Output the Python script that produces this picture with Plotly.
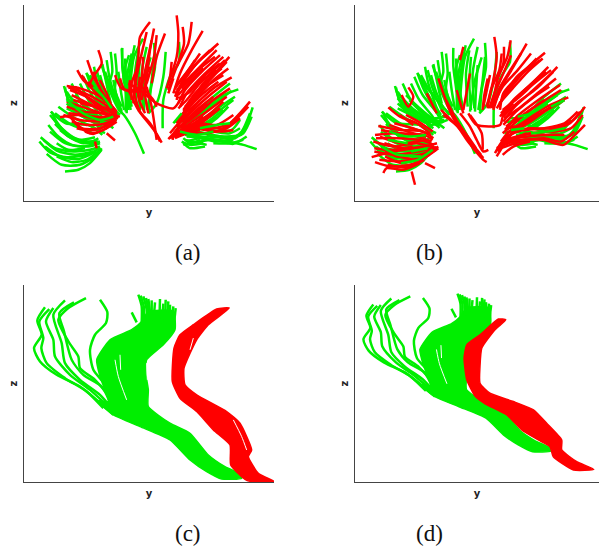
import plotly.graph_objects as go

# Streamline fibres as (y, z) samples. Axis z runs downward in these units.
green_ab = [
 [(195,515),(235,510),(270,490),(305,450)],
 [(140,462),(185,495),(240,495),(285,470),(305,445)],
 [(118,425),(150,458),(200,472),(260,465),(300,445)],
 [(122,412),(165,445),(220,455),(270,450),(300,440)],
 [(145,375),(175,410),(215,435),(265,440),(300,430)],
 [(155,335),(170,365),(205,405),(250,425),(295,425)],
 [(170,430),(205,450),(255,445)],
 [(150,345),(185,385),(225,415),(275,425),(295,415)],
 [(160,355),(190,395),(235,420),(285,412)],
 [(130,420),(170,452),(225,465),(280,455)],
 [(135,440),(180,470),(235,478),(290,455)],
 [(170,470),(215,487),(260,480),(300,450)],
 [(150,395),(195,430),(245,440),(295,432)],
 [(180,390),(215,415),(270,432),(300,425)],
 [(165,372),(205,410),(250,430),(290,420)],
 [(195,262),(205,300),(240,345),(290,365),(340,360)],
 [(200,295),(230,330),(280,355),(350,350)],
 [(200,325),(250,350),(300,375),(350,360)],
 [(210,290),(250,330),(300,360),(345,345)],
 [(200,310),(240,345),(290,370)],
 [(200,275),(235,325),(300,375)],
 [(215,250),(240,300),(290,345),(340,385)],
 [(225,285),(265,325),(315,370)],
 [(240,250),(265,300),(305,350),(325,385)],
 [(250,230),(275,285),(315,335),(335,370)],
 [(290,210),(305,265),(330,325),(345,350)],
 [(320,180),(330,240),(350,305),(360,335)],
 [(175,320),(225,355),(285,385),(315,400)],
 [(165,340),(215,375),(275,395)],
 [(235,300),(275,340),(320,375)],
 [(345,160),(350,220),(345,270),(365,320)],
 [(260,220),(285,260),(320,300),(355,345)],
 [(270,225),(295,270),(330,315),(360,345)],
 [(305,195),(320,240),(345,290),(365,340)],
 [(315,215),(335,270),(355,320)],
 [(300,225),(315,275),(340,330)],
 [(270,240),(295,290),(330,345)],
 [(355,215),(362,270),(372,330)],
 [(340,240),(350,290),(365,335)],
 [(375,175),(380,250),(392,330)],
 [(395,160),(382,230),(395,320)],
 [(415,150),(405,220),(410,320)],
 [(440,140),(425,220),(430,325)],
 [(420,170),(415,250),(420,330)],
 [(462,170),(455,240),(442,330)],
 [(440,195),(435,270),(432,335)],
 [(429,115),(402,170),(392,240),(385,330)],
 [(462,128),(465,200),(452,270),(447,335)],
 [(452,172),(432,240),(417,335)],
 [(404,135),(392,200),(382,280),(380,340)],
 [(367,143),(367,200),(377,280),(377,335)],
 [(387,165),(372,220),(387,300)],
 [(332,155),(337,215),(327,260),(357,330),(372,345),(405,400),(432,462)],
 [(307,192),(317,240),(332,310)],
 [(282,200),(292,250),(312,310),(327,350)],
 [(259,218),(277,265),(307,320),(332,360)],
 [(192,258),(207,300),(257,335),(322,380)],
 [(152,335),(197,370),(267,375),(307,405)],
 [(207,310),(247,340),(307,385)],
 [(227,320),(270,345),(302,395)],
 [(537,125),(537,185),(510,230),(490,300),(488,385)],
 [(497,155),(490,230),(470,310),(445,340)],
 [(770,448),(730,435),(680,425),(620,415),(560,410)],
 [(758,322),(735,385),(705,415),(640,405),(570,390)],
 [(750,340),(725,395),(690,420),(640,420),(575,410)],
 [(740,410),(700,432),(640,420),(550,435)],
 [(715,268),(660,290),(600,340),(545,385)],
 [(690,250),(640,290),(590,340),(530,370)],
 [(695,272),(645,310),(600,350),(535,355)],
 [(685,320),(650,355),(610,385)],
 [(615,440),(570,445),(550,430)],
 [(650,350),(600,385),(560,410)],
 [(720,385),(690,400),(640,395),(590,380)],
 [(620,435),(580,425),(555,420)],
 [(700,300),(660,330),(590,375),(520,400)],
 [(705,290),(660,320),(600,365),(530,385)],
 [(720,360),(695,390),(640,392),(580,372)],
 [(745,370),(720,405),(680,410),(620,405)],
 [(755,350),(730,400),(690,415),(630,410)],
 [(600,420),(570,430),(550,415)],
 [(640,410),(590,410),(555,405)],
 [(700,420),(650,425),(600,415),(560,425)],
 [(680,285),(630,320),(580,360),(525,365)],
 [(670,330),(630,360),(590,385)],
 [(630,400),(580,400),(550,395)],
 [(730,420),(690,430),(640,430)],
 [(610,430),(570,435),(545,425)],
]
red_a = [
 [(530,45),(535,100),(530,170),(505,250)],
 [(548,80),(552,130),(530,200)],
 [(575,65),(565,130),(530,200),(505,270)],
 [(608,92),(575,150),(540,220),(520,280)],
 [(655,130),(600,180),(550,240),(525,290)],
 [(640,145),(590,190),(545,250)],
 [(630,150),(585,195),(540,260),(530,300)],
 [(660,165),(605,215),(555,270),(535,310)],
 [(670,170),(610,225),(560,280),(540,320)],
 [(688,170),(640,225),(585,280),(550,330)],
 [(680,185),(625,245),(575,300),(545,350)],
 [(665,205),(610,250),(570,310)],
 [(695,232),(640,265),(590,310),(550,345)],
 [(690,265),(640,300),(590,345),(530,390)],
 [(680,290),(620,335),(570,370),(515,410)],
 [(750,305),(715,345),(670,385),(600,375),(535,380)],
 [(745,320),(700,365),(650,395),(580,385),(520,400)],
 [(640,290),(590,330),(540,380),(505,418)],
 [(620,310),(570,355),(525,395),(518,420)],
 [(610,350),(560,385),(525,405)],
 [(650,150),(610,190),(565,235),(530,270)],
 [(645,170),(600,205),(555,250),(525,280)],
 [(675,180),(625,225),(575,265),(540,300)],
 [(660,190),(615,225),(570,275),(535,295)],
 [(650,210),(600,250),(560,300),(535,325)],
 [(685,205),(640,240),(590,290),(555,320)],
 [(670,225),(625,255),(580,305),(550,335)],
 [(655,245),(610,280),(565,325),(540,355)],
 [(680,245),(630,285),(580,330),(545,365)],
 [(620,185),(580,225),(545,265)],
 [(610,205),(570,245),(535,285)],
 [(600,160),(565,210),(530,255)],
 [(585,180),(555,225),(525,265)],
 [(670,305),(620,350),(575,385),(530,405)],
 [(660,325),(610,365),(570,395),(520,410)],
 [(700,345),(650,375),(600,370),(545,385)],
 [(730,330),(690,370),(640,385),(580,378)],
 [(720,355),(680,385),(620,400),(560,395)],
 [(640,335),(595,365),(550,395),(525,410)],
 [(600,300),(565,340),(530,380)],
 [(600,390),(560,400),(525,415)],
 [(640,375),(590,390),(540,400),(510,415)],
 [(560,340),(535,370),(510,400)],
 [(700,390),(660,395),(610,385)],
 [(575,310),(545,345),(530,370)],
 [(515,185),(510,230),(500,265)],
 [(520,235),(505,280)],
 [(450,65),(420,110),(415,170),(405,240),(400,310)],
 [(462,85),(450,150),(440,230),(425,300)],
 [(470,105),(462,170),(440,250)],
 [(495,100),(470,170),(455,250)],
 [(440,95),(425,160),(410,230),(405,280)],
 [(455,120),(440,190),(425,260)],
 [(410,210),(395,250),(395,300)],
 [(430,170),(425,240),(420,300)],
 [(420,230),(415,290),(435,340)],
 [(390,240),(390,270),(410,270)],
 [(360,235),(375,270),(420,275)],
 [(445,220),(435,280),(445,340)],
 [(345,225),(365,265),(410,270),(430,240),(450,200)],
 [(385,250),(420,270),(470,310),(520,325),(540,300)],
 [(400,270),(420,335),(450,370),(485,428)],
 [(440,260),(455,320),(470,420)],
 [(385,270),(415,330),(465,395),(480,425)],
 [(415,250),(460,300),(470,320)],
 [(295,150),(305,190),(280,230),(265,260)],
 [(262,180),(280,230),(300,265)],
 [(232,210),(250,240),(290,270),(335,320)],
 [(200,258),(240,265),(300,290),(350,340)],
 [(210,270),(260,290),(320,330),(355,350)],
 [(225,260),(270,300),(330,350)],
 [(200,320),(250,335),(310,340),(355,352)],
 [(180,352),(235,345),(300,360),(350,355)],
 [(210,350),(245,385),(300,385),(340,360)],
 [(225,370),(270,400),(310,390),(350,365)],
 [(240,310),(285,320),(330,330)],
 [(225,330),(275,350),(340,350)],
 [(320,400),(345,422)],
 [(285,425),(290,445)],
 [(300,240),(320,280),(335,320)],
 [(205,262),(255,280),(310,310),(350,345)],
 [(215,285),(265,310),(320,340),(360,350)],
 [(200,305),(260,325),(320,345),(355,355)],
 [(280,215),(300,265),(330,310),(350,335)],
 [(245,225),(270,260),(310,295),(340,325)],
 [(265,245),(295,280),(330,320)],
 [(215,365),(260,375),(310,372),(350,358)],
 [(230,385),(270,392),(315,380),(345,365)],
 [(190,345),(240,360),(300,365)],
 [(220,300),(270,315),(325,325)],
 [(205,340),(255,345),(310,355)],
 [(255,395),(280,402),(320,385)],
]
green_over_a = [
 [(200,300),(250,340),(300,360),(340,350)],
 [(280,260),(310,290),(335,325)],
 [(520,370),(545,340)],
 [(600,385),(650,375),(690,370)],
 [(365,145),(368,200),(372,250)],
 [(540,395),(590,405),(640,395)],
]
red_b = [
 [(490,110),(497,170),(487,240),(467,320)],
 [(539,120),(529,170),(502,230),(482,325)],
 [(519,140),(517,190),(497,240)],
 [(587,130),(547,200),(507,270),(487,330)],
 [(642,158),(587,205),(532,265),(502,320)],
 [(627,180),(567,225),(517,280),(507,330)],
 [(607,190),(557,230),(517,290)],
 [(652,200),(597,255),(547,300),(512,345)],
 [(679,200),(617,265),(557,310),(517,350)],
 [(667,215),(607,270),(547,325),(517,365)],
 [(687,255),(622,300),(557,350),(522,390)],
 [(712,292),(647,320),(587,360),(527,400)],
 [(692,305),(627,340),(567,385),(517,420)],
 [(762,320),(727,360),(667,385),(597,385),(537,395)],
 [(747,335),(717,370),(647,395),(577,405),(527,430)],
 [(762,375),(727,410),(697,435),(637,420),(567,420),(507,440)],
 [(607,350),(547,395),(497,470)],
 [(587,400),(537,425),(497,445)],
 [(597,425),(547,440),(515,465)],
 [(567,385),(517,420),(492,460)],
 [(635,175),(590,215),(545,265),(505,310)],
 [(617,175),(575,220),(530,275),(497,325)],
 [(600,160),(560,210),(515,260),(490,310)],
 [(570,160),(535,215),(505,265),(485,320)],
 [(660,210),(610,250),(560,295),(515,330)],
 [(645,215),(600,255),(545,305),(510,340)],
 [(630,225),(580,270),(530,320),(507,350)],
 [(675,235),(625,275),(570,320),(520,355)],
 [(655,260),(610,290),(555,335),(517,375)],
 [(690,270),(635,305),(575,345),(525,380)],
 [(640,300),(590,335),(545,375),(515,400)],
 [(700,300),(640,335),(590,370),(530,385)],
 [(620,340),(570,375),(530,400),(510,425)],
 [(740,335),(700,370),(640,385),(570,392),(525,410)],
 [(755,345),(720,385),(670,395),(600,400),(520,420)],
 [(700,405),(650,405),(590,410),(530,420)],
 [(730,395),(690,425),(640,415),(570,425),(510,445)],
 [(590,370),(545,400),(505,440)],
 [(560,420),(520,430),(500,455)],
 [(512,160),(505,210),(480,270),(470,325)],
 [(540,165),(515,225),(490,280),(475,325)],
 [(470,235),(460,285),(455,330)],
 [(322,235),(337,280),(362,345),(407,420),(457,480),(467,487)],
 [(337,345),(387,385),(427,440),(457,475)],
 [(387,340),(417,380),(437,420),(457,455),(472,450)],
 [(412,340),(437,375),(507,375),(517,345),(547,310)],
 [(417,345),(452,400),(455,450)],
 [(345,300),(385,375),(430,450)],
 [(330,330),(370,370),(410,415),(450,465)],
 [(362,345),(400,395),(435,445)],
 [(397,140),(387,180)],
 [(417,220),(397,330)],
 [(377,270),(397,340)],
 [(287,280),(317,340)],
 [(347,310),(372,360)],
 [(477,225),(457,320)],
 [(232,262),(247,290),(232,320),(212,285)],
 [(172,322),(207,350),(257,370),(297,400)],
 [(142,378),(207,390),(277,395),(307,415)],
 [(132,405),(197,400),(257,410),(302,425)],
 [(127,425),(187,440),(257,430),(317,445)],
 [(122,472),(187,455),(257,445),(307,450)],
 [(152,445),(197,470),(267,465),(322,440)],
 [(132,487),(177,500),(237,495),(287,470),(322,445)],
 [(157,520),(167,505),(217,510),(267,490)],
 [(242,515),(252,555)],
 [(282,490),(312,505)],
 [(247,375),(207,345)],
 [(162,470),(212,490),(277,470)],
 [(147,410),(207,430),(287,420)],
 [(150,390),(210,400),(280,405),(305,420)],
 [(135,415),(200,415),(265,420),(310,435)],
 [(160,430),(220,445),(280,440),(318,430)],
 [(130,455),(190,465),(260,455),(315,442)],
 [(145,480),(205,485),(265,475),(315,450)],
 [(170,495),(225,503),(280,480)],
 [(190,370),(245,385),(300,405)],
 [(225,345),(270,370),(305,395)],
 [(175,375),(230,395),(285,410)],
 [(130,445),(185,450),(245,440)],
 [(205,470),(265,485)],
]
green_over_b = [
 [(150,440),(200,465),(270,470)],
 [(175,395),(230,410),(285,405)],
 [(210,490),(260,480),(305,450)],
 [(170,420),(230,430)],
 [(240,455),(290,445)],
 [(560,350),(600,340),(650,310)],
 [(600,400),(650,395),(700,385)],
 [(660,320),(700,300)],
 [(540,390),(580,385)],
]
green_cd_core = [(395,150),(425,125),(445,95),(520,95),(525,150),(490,195),(440,240),(438,285),(445,330),(445,380),(510,430),
 (570,460),(625,525),(675,560),(720,582),(725,595),(665,597),(620,575),(570,540),(510,480),(420,440),(340,405),
 (290,362),(325,365),(300,290),(290,240),(330,180)]
green_cd = [
 [(135,83),(112,122),(125,165),(102,205),(120,245),(170,285),(240,320),(290,360),(340,405)],
 [(148,88),(118,125),(130,175),(124,205),(140,250),(195,295),(260,335),(310,385)],
 [(160,85),(138,125),(160,180),(165,230),(210,285),(270,330),(320,375)],
 [(195,62),(160,105),(185,190),(195,250),(240,300),(300,345),(335,385)],
 [(222,68),(178,100),(192,155),(215,240),(250,285),(305,320),(330,368)],
 [(258,55),(205,85),(175,120),(205,185),(235,230),(240,265),(285,300),(320,340)],
 [(300,60),(322,97),(318,130),(285,165),(270,210),(280,270),(320,320),(335,370)],
 [(395,98),(410,128)],
 [(415,45),(425,80),(425,130)],
 [(422,48),(432,85),(430,130)],
 [(430,50),(440,90),(440,130)],
 [(438,55),(445,90),(445,130)],
 [(445,58),(450,100),(450,130)],
 [(455,62),(455,100),(455,130)],
 [(465,68),(460,130)],
 [(480,58),(478,130)],
 [(490,72),(485,130)],
 [(497,60),(495,130)],
 [(505,65),(500,130)],
 [(510,75),(510,130)],
 [(520,80),(515,130)],
 [(527,85),(520,150)],
]
gaps_c = [
 [(345,240),(355,290),(380,360)],
 [(360,225),(362,270)],
 [(440,250),(442,300)],
]
red_c_core = [(688,85),(650,88),(580,135),(540,165),(522,205),(517,305),(540,355),(590,395),(640,450),(690,495),
 (692,555),(735,598),(760,606),(825,606),(775,580),(745,530),(755,510),(720,430),(680,395),(590,345),
 (555,315),(552,265),(590,180),(625,135)]
red_d_core = [(576,136),(551,134),(490,189),(446,224),(437,270),(446,346),(474,404),(507,430),(579,469),(629,521),
 (684,556),(723,580),(734,615),(801,661),(869,659),(812,632),(762,591),(762,556),(712,498),(668,451),
 (601,422),(523,393),(490,358),(490,299),(496,235),(540,171)]
gaps_red_c = [[(570,210),(580,175)], [(700,420),(725,470),(740,510)]]

captions = ["(a)", "(b)", "(c)", "(d)"]
y_label, z_label = "y", "z"
GREEN, RED = "#00ee00", "#ff0000"

fig = go.Figure()

def fibres(items, colour, axis, width=2.5):
    xs, zs = [], []
    for f in items:
        xs += [p[0] for p in f] + [None]
        zs += [p[1] for p in f] + [None]
    fig.add_trace(go.Scatter(x=xs, y=zs, mode="lines", xaxis="x"+axis, yaxis="y"+axis, showlegend=False,
                             hoverinfo="skip", line=dict(color=colour, width=width, shape="spline", smoothing=0.7)))

def core(points, colour, axis):
    pts = points + points[:1]
    fig.add_trace(go.Scatter(x=[p[0] for p in pts], y=[p[1] for p in pts], mode="lines", fill="toself",
                             fillcolor=colour, xaxis="x"+axis, yaxis="y"+axis, showlegend=False, hoverinfo="skip",
                             line=dict(color=colour, width=1.5, shape="spline", smoothing=0.5)))

fibres(green_ab, GREEN, "")
fibres(red_a, RED, "")
fibres(green_over_a, GREEN, "")
fibres(green_ab, GREEN, "2")
fibres(red_b, RED, "2")
fibres(green_over_b, GREEN, "2")
for ax, red in (("3", red_c_core), ("4", red_d_core)):
    core(green_cd_core, GREEN, ax)
    fibres(green_cd, GREEN, ax)
    fibres(gaps_c, "white", ax, width=1)
    core(red, RED, ax)
fibres(gaps_red_c, "white", "3", width=1)

W, H = 599, 548
def xdom(a, b): return [a/W, b/W]
def ydom(t, b): return [1-b/H, 1-t/H]
def axis_style(dom, rng, label, standoff):
    return dict(domain=dom, range=rng, showgrid=False, zeroline=False, showticklabels=False, ticks="",
                showline=True, linecolor="#444444", linewidth=1,
                title=dict(text="<b>%s</b>" % label, font=dict(family="DejaVu Sans", size=10, color="#222222"), standoff=standoff))

layout = dict(width=W, height=H, margin=dict(l=0, r=0, t=0, b=0), paper_bgcolor="white", plot_bgcolor="white")
layout["xaxis"]  = dict(axis_style(xdom(24, 274), [72, 822], y_label, 7), anchor="y")
layout["yaxis"]  = dict(axis_style(ydom(5, 201), [604, 14], z_label, 3), anchor="x")
layout["xaxis2"] = dict(axis_style(xdom(355, 599), [72, 804], y_label, 7), anchor="y2")
layout["yaxis2"] = dict(axis_style(ydom(5, 201), [604, 14], z_label, 3), anchor="x2")
layout["xaxis3"] = dict(axis_style(xdom(24, 274), [72, 822], y_label, 7), anchor="y3")
layout["yaxis3"] = dict(axis_style(ydom(285, 482), [606, 16], z_label, 3), anchor="x3")
layout["xaxis4"] = dict(axis_style(xdom(355, 599), [74, 886], y_label, 7), anchor="y4")
layout["yaxis4"] = dict(axis_style(ydom(285, 482), [703, 15], z_label, 3), anchor="x4")
fig.update_layout(**layout)

for text, px, py in zip(captions, [188, 429, 188, 429], [252, 252, 533, 533]):
    fig.add_annotation(text=text, xref="paper", yref="paper", x=px/W, y=1-py/H, xanchor="center", yanchor="middle",
                       showarrow=False, font=dict(family="Liberation Serif", size=23, color="#111111"))

fig.write_html("out.html", config={"displayModeBar": False}, post_script="document.body.style.margin='0';")
